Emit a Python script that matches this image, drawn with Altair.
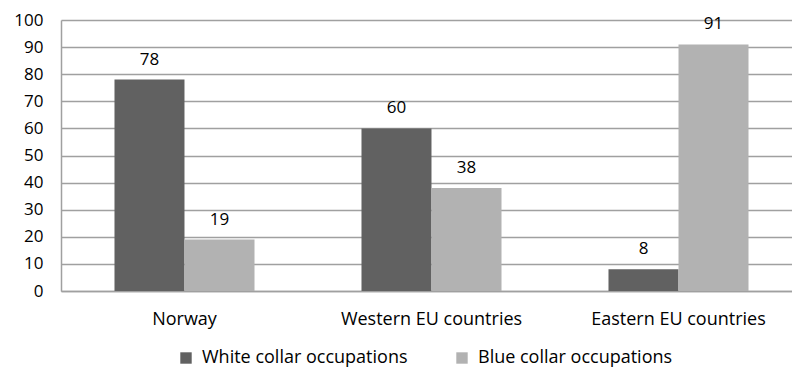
import altair as alt
import pandas as pd

regions = ["Norway", "Western EU countries", "Eastern EU countries"]
series = ["White collar occupations", "Blue collar occupations"]
white = [78, 60, 8]
blue = [19, 38, 91]
colors = ["#616161", "#b2b2b2"]

rows = []
for i, r in enumerate(regions):
    rows.append({"region": r, "series": series[0], "value": white[i]})
    rows.append({"region": r, "series": series[1], "value": blue[i]})
df = pd.DataFrame(rows)

FONT = "Open Sans"

x = alt.X("region:N", sort=regions, title=None,
          scale=alt.Scale(range=[0, 741], paddingInner=0.433, paddingOuter=0.2165),
          axis=alt.Axis(labelAngle=0, labelFontSize=18, labelFont=FONT, labelColor="#000000",
                        ticks=False, domainColor="#a0a0a0", domainWidth=1.5, labelPadding=19,
                        labelLimit=0))
xo = alt.XOffset("series:N", sort=series, scale=alt.Scale(paddingInner=0, paddingOuter=0))
y = alt.Y("value:Q", title=None,
          scale=alt.Scale(domain=[0, 100], nice=False),
          axis=alt.Axis(values=list(range(0, 101, 10)), labelFontSize=17, labelFont=FONT,
                        labelColor="#000000", ticks=False, domainColor="#a0a0a0", domainWidth=1.5,
                        gridColor="#a0a0a0", gridWidth=1.5, labelPadding=18))

base = alt.Chart(df)
bars = base.mark_bar(size=70).encode(
    x=x, xOffset=xo, y=y,
    color=alt.Color("series:N", sort=series,
                    scale=alt.Scale(domain=series, range=colors),
                    legend=alt.Legend(title=None, orient="none", legendX=116, legendY=329,
                                      direction="horizontal", symbolType="square",
                                      symbolSize=130, symbolStrokeWidth=0, labelFontSize=18,
                                      labelFont=FONT, labelColor="#000000", columnPadding=45,
                                      labelOffset=7, labelLimit=0)),
)
labels = base.mark_text(dy=-20, fontSize=17, font=FONT, color="#000000", baseline="middle").encode(
    x=x, xOffset=xo, y=y, text=alt.Text("value:Q"),
)

chart = (bars + labels).properties(
    width=731, height=271,
    autosize=alt.AutoSizeParams(type="none"),
    padding={"left": 61, "top": 20, "right": 0, "bottom": 76},
).configure_view(stroke=None)

chart.save("out.html", embed_options={"renderer": "svg", "actions": False})
